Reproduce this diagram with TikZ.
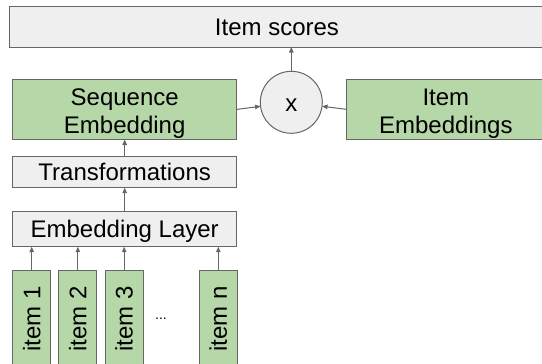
\documentclass[tikz,border=0pt]{standalone}
\usepackage{fontspec}
\setmainfont{Liberation Sans}
\usetikzlibrary{arrows.meta}
\definecolor{edgegray}{RGB}{102,102,102}
\definecolor{boxgray}{RGB}{239,239,239}
\definecolor{boxgreen}{RGB}{182,215,168}
\begin{document}
\begin{tikzpicture}[x=1pt,y=-1pt,
  base/.style={draw=edgegray, line width=1pt, inner sep=0pt, outer sep=0pt,
    font=\fontsize{24}{28.3}\selectfont, text=black},
  graybox/.style={base, rectangle, fill=boxgray, text height=17.2pt, text depth=0pt},
  greenbox/.style={base, rectangle, fill=boxgreen, text height=17.2pt, text depth=0pt},
  itembox/.style={base, rectangle, fill=boxgreen, minimum width=38pt, minimum height=96pt},
  lbl/.style={inner sep=0pt, outer sep=0pt, font=\fontsize{24}{28.3}\selectfont, text=black, anchor=base},
  conn/.style={draw=edgegray, line width=1pt, -{Triangle[length=5.5pt,width=4.5pt]}}
]
\useasboundingbox (0,0) rectangle (542,364);
\clip (0,0) rectangle (542,364);

% top
\node[graybox, minimum width=543pt, minimum height=40.3pt] (scores) at (280.5,26.85) {};
\node[lbl] (scoresT) at (277,35.45) {Item scores};

% product
\node[base, circle, fill=boxgray, minimum size=62pt, text height=18.8pt, text depth=0pt] (prod) at (291.3,102.3) {x};

% embeddings
\node[greenbox, minimum width=224pt, minimum height=60.2pt] (seq) at (124.7,109.4) {};
\node[lbl] (seqA) at (124.7,105) {Sequence};
\node[lbl] (seqB) at (124.7,133.3) {Embedding};

\node[greenbox, minimum width=205.3pt, minimum height=60.2pt] (iemb) at (449.35,109.4) {};
\node[lbl] (iembA) at (445.85,105) {Item};
\node[lbl] (iembB) at (445.85,133.3) {Embeddings};

% layers
\node[graybox, minimum width=224pt, minimum height=31pt] (trans) at (124.7,172.2) {Transformations};
\node[graybox, minimum width=224pt, minimum height=35.7pt] (embl) at (124.7,228.85) {Embedding Layer};

% items
\node[itembox] (i1) at (31.7,318.7) {\rotatebox{90}{item 1}};
\node[itembox] (i2) at (77.85,318.7) {\rotatebox{90}{item 2}};
\node[itembox] (i3) at (124.15,318.7) {\rotatebox{90}{item 3}};
\node[itembox] (in) at (218.3,318.7) {\rotatebox{90}{item n}};
\node[inner sep=0pt, anchor=base, font=\fontsize{14}{16}\selectfont] (dots) at (161,319) {...};

% connectors
\draw[conn] (prod.north) -- (prod.north |- scores.south);
\draw[conn] (seq.east) -- (prod);
\draw[conn] (iemb.west |- seq.east) -- (prod);
\draw[conn] (trans.north) -- (seq.south);
\draw[conn] (embl.north) -- (trans.south);
\foreach \n in {i1,i2,i3,in} {
  \draw[conn] (\n.north) -- (\n.north |- embl.south);
}
\end{tikzpicture}
\end{document}
